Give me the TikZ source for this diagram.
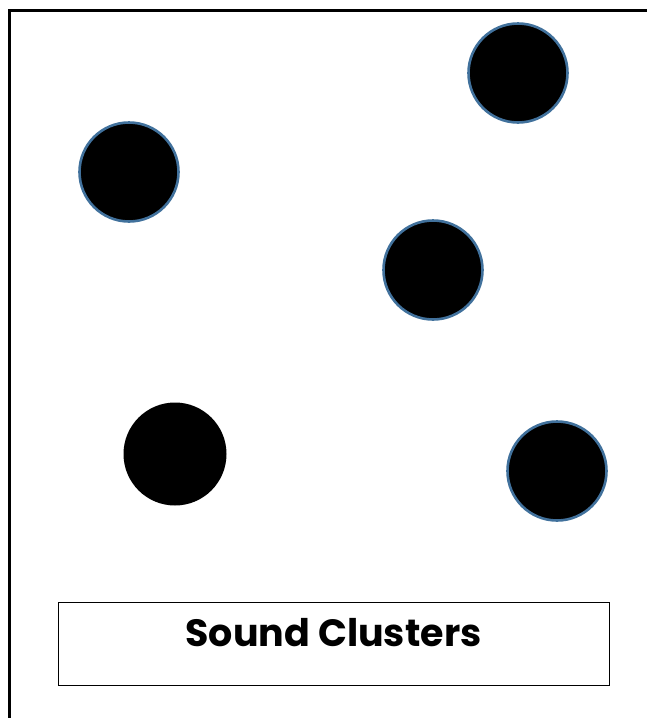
\documentclass[tikz,border=0pt]{standalone}
\usepackage{fontspec}
\newfontfamily\labelfont{Poppins}
\usetikzlibrary{positioning}
\definecolor{ringblue}{HTML}{41719C}

\begin{document}
\begin{tikzpicture}[x=1pt, y=-1pt,
    cluster/.style={circle, fill=black, draw=ringblue, line width=2.6pt, minimum size=99pt, inner sep=0pt},
    plaincluster/.style={circle, fill=black, minimum size=103pt, inner sep=0pt}]
            \useasboundingbox (0,0) rectangle (647,718);

            % outer frame (only top and left edges fall in the picture)
            \draw[line width=3pt] (9.5,10.5) rectangle (680,760);

            % sound clusters
            \node[cluster] (c1) at (518,73) {};
            \node[cluster] (c2) at (129,172) {};
            \node[cluster] (c3) at (433,270) {};
            \node[plaincluster] (c4) at (175,454) {};
            \node[cluster] (c5) at (557,471) {};

            % caption box
            \node[draw, line width=0.9pt, minimum width=551pt, minimum height=83pt, inner sep=0pt] (caption) at (333.5,643.5) {};
            \node[font=\labelfont\bfseries\fontsize{38}{44}\selectfont] (title) at ([yshift=11pt]caption.center) {Sound Clusters};
        \end{tikzpicture}
\end{document}
